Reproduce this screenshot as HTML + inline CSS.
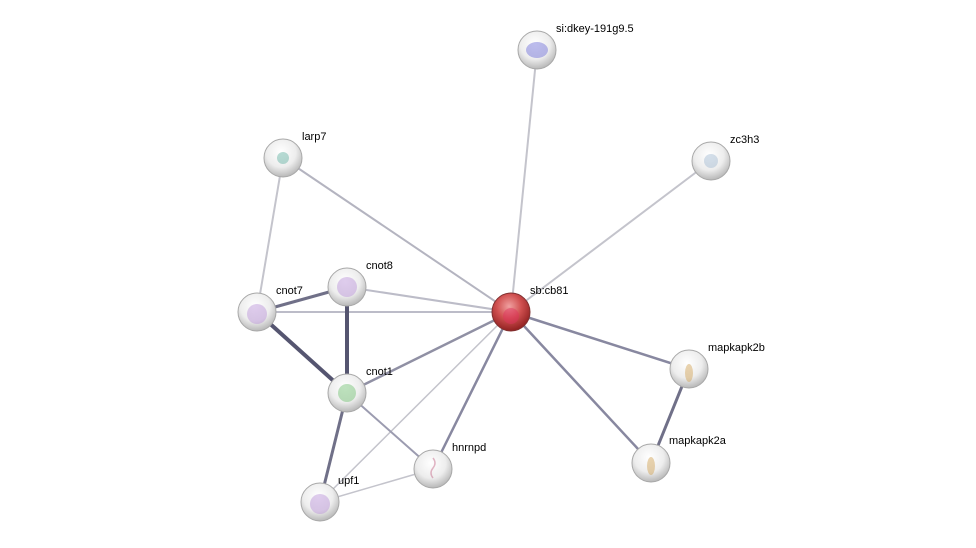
<!DOCTYPE html>
<html><head><meta charset="utf-8"><style>
html,body{margin:0;padding:0;background:#fff;}
svg{display:block}
text{font-family:"Liberation Sans",sans-serif;font-size:11px;fill:#000}
</style></head><body>
<svg width="976" height="548" viewBox="0 0 976 548" xmlns="http://www.w3.org/2000/svg">
<defs>
<radialGradient id="g" cx="45%" cy="35%" r="65%">
<stop offset="0" stop-color="#ffffff"/><stop offset="0.6" stop-color="#ededed"/><stop offset="1" stop-color="#b8b8b8"/>
</radialGradient>
<radialGradient id="r" cx="45%" cy="35%" r="65%">
<stop offset="0" stop-color="#f0a0a0"/><stop offset="0.5" stop-color="#d05050"/><stop offset="1" stop-color="#902020"/>
</radialGradient>
</defs>
<g stroke-linecap="round">
<line x1="511" y1="312" x2="537" y2="50" stroke="#c4c4cc" stroke-width="2"/>
<line x1="511" y1="312" x2="711" y2="161" stroke="#c4c4cc" stroke-width="2"/>
<line x1="511" y1="312" x2="283" y2="158" stroke="#b4b4c0" stroke-width="2"/>
<line x1="283" y1="158" x2="257" y2="312" stroke="#c4c4cc" stroke-width="2"/>
<line x1="347" y1="287" x2="511" y2="312" stroke="#bcbcc8" stroke-width="2"/>
<line x1="257" y1="312" x2="511" y2="312" stroke="#bcbcc8" stroke-width="2"/>
<line x1="347" y1="287" x2="347" y2="393" stroke="#555570" stroke-width="4"/>
<line x1="257" y1="312" x2="347" y2="393" stroke="#555570" stroke-width="4"/>
<line x1="257" y1="312" x2="347" y2="287" stroke="#707088" stroke-width="3"/>
<line x1="347" y1="393" x2="511" y2="312" stroke="#9090a4" stroke-width="2.5"/>
<line x1="511" y1="312" x2="433" y2="469" stroke="#8888a0" stroke-width="2.5"/>
<line x1="511" y1="312" x2="320" y2="502" stroke="#c4c4cc" stroke-width="1.5"/>
<line x1="511" y1="312" x2="689" y2="369" stroke="#8888a0" stroke-width="2.5"/>
<line x1="511" y1="312" x2="651" y2="463" stroke="#8888a0" stroke-width="2.5"/>
<line x1="689" y1="369" x2="651" y2="463" stroke="#707088" stroke-width="3"/>
<line x1="347" y1="393" x2="320" y2="502" stroke="#707088" stroke-width="3"/>
<line x1="347" y1="393" x2="433" y2="469" stroke="#9c9cb0" stroke-width="2"/>
<line x1="320" y1="502" x2="433" y2="469" stroke="#c4c4cc" stroke-width="1.5"/>
</g>
<g stroke="#a8a8a8" stroke-width="1">
<circle cx="537" cy="50" r="19" fill="url(#g)"/>
<circle cx="711" cy="161" r="19" fill="url(#g)"/>
<circle cx="283" cy="158" r="19" fill="url(#g)"/>
<circle cx="347" cy="287" r="19" fill="url(#g)"/>
<circle cx="257" cy="312" r="19" fill="url(#g)"/>
<circle cx="347" cy="393" r="19" fill="url(#g)"/>
<circle cx="689" cy="369" r="19" fill="url(#g)"/>
<circle cx="651" cy="463" r="19" fill="url(#g)"/>
<circle cx="433" cy="469" r="19" fill="url(#g)"/>
<circle cx="320" cy="502" r="19" fill="url(#g)"/>
<circle cx="511" cy="312" r="19" fill="url(#r)" stroke="#803030"/>
</g>
<g opacity="0.45">
<ellipse cx="537" cy="50" rx="11" ry="8" fill="#6a6ad8"/>
<circle cx="283" cy="158" r="6" fill="#60b0a0"/>
<circle cx="347" cy="287" r="10" fill="#b890d8"/>
<circle cx="257" cy="314" r="10" fill="#b890d8"/>
<circle cx="347" cy="393" r="9" fill="#70c070"/>
<circle cx="320" cy="504" r="10" fill="#b890d8"/>
<ellipse cx="689" cy="373" rx="4" ry="9" fill="#d0a050"/>
<ellipse cx="651" cy="466" rx="4" ry="9" fill="#d0a050"/>
<circle cx="711" cy="161" r="7" fill="#a0b8d0"/>
<circle cx="511" cy="316" r="8" fill="#e03060"/>
<path d="M433 458 q4 5 0 10 q-4 5 0 10" stroke="#c06080" stroke-width="1.5" fill="none"/>
</g>
<text x="556" y="32">si:dkey-191g9.5</text>
<text x="730" y="143">zc3h3</text>
<text x="302" y="140">larp7</text>
<text x="366" y="269">cnot8</text>
<text x="276" y="294">cnot7</text>
<text x="530" y="294">sb:cb81</text>
<text x="366" y="375">cnot1</text>
<text x="708" y="351">mapkapk2b</text>
<text x="669" y="444">mapkapk2a</text>
<text x="452" y="451">hnrnpd</text>
<text x="338" y="484">upf1</text>
</svg>
</body></html>
